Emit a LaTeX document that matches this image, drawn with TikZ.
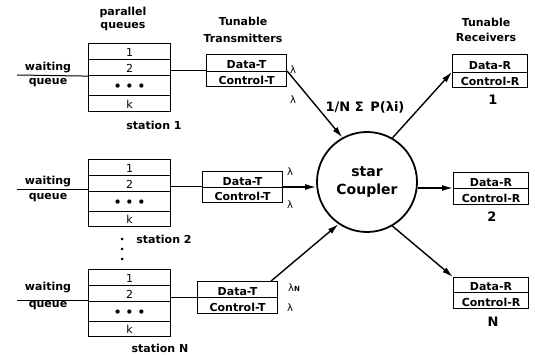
\documentclass[tikz,border=0pt]{standalone}
\usepackage{fontspec}
\setmainfont{DejaVu Sans}
\usetikzlibrary{arrows.meta,calc}
\begin{document}
\begin{tikzpicture}[x=1pt,y=-1pt,
 box/.style={draw, line width=1.1pt, inner sep=0pt, anchor=north west, text depth=0pt},
 qrow/.style={box, minimum width=82pt, font=\fontsize{11}{12}\selectfont, text height=9pt},
 trow/.style={box, minimum width=80pt, font=\bfseries\fontsize{11}{12}\selectfont, text height=11pt},
 rrow/.style={box, minimum width=75pt, font=\bfseries\fontsize{11}{12}\selectfont, text height=11pt},
 lab/.style={font=\bfseries\fontsize{11}{12}\selectfont, inner sep=0pt},
 big/.style={font=\bfseries\fontsize{13}{15}\selectfont, inner sep=0pt},
 lam/.style={font=\fontsize{10}{12}\selectfont, inner sep=0pt},
 dotm/.style={circle, fill, inner sep=0pt, minimum size=3pt},
 arr/.style={line width=1.4pt, -{Latex[length=11pt,width=6pt]}},
 wire/.style={line width=1pt},
]
\useasboundingbox (0,0) rectangle (535,355);

% headers
\node[lab] (pq1) at (123,12) {parallel};
\node[lab] (pq2) at (123,27) {queues};
\node[lab] (tt1) at (243,21) {Tunable};
\node[lab] (tt2) at (243,38) {Transmitters};
\node[lab] (tr1) at (486,22) {Tunable};
\node[lab] (tr2) at (486,37) {Receivers};

% station 1
\node[qrow, minimum height=16pt] (q1a) at (88,43) {1};
\node[qrow, minimum height=16pt] (q1b) at (88,59) {2};
\node[qrow, minimum height=20pt, font=\bfseries\fontsize{12}{12}\selectfont] (q1c) at (88,75) {• • •};
\node[qrow, minimum height=16pt] (q1d) at (88,95) {k};
\coordinate (w1) at (17,75);
\draw[wire] (w1) -- (q1b.south west);
\node[lab] (wt1) at (48,68) {waiting};
\node[lab] (wq1) at (48,83) {queue};
\node[lab] (s1) at (154,125) {station 1};

% station 2
\node[qrow, minimum height=16pt] (q2a) at (88,159) {1};
\node[qrow, minimum height=16pt] (q2b) at (88,175) {2};
\node[qrow, minimum height=20pt, font=\bfseries\fontsize{12}{12}\selectfont] (q2c) at (88,191) {• • •};
\node[qrow, minimum height=15pt] (q2d) at (88,211) {k};
\coordinate (w2) at (17,190);
\draw[wire] (w2) -- (w2 -| q2b.west);
\node[lab] (wt2) at (48,182) {waiting};
\node[lab] (wq2) at (48,198) {queue};
\node[lab] (s2) at (164,239) {station 2};
\node[dotm] (v1) at (122,239) {};
\node[dotm] (v2) at (122,249) {};
\node[dotm] (v3) at (122,259) {};

% station N
\node[qrow, minimum height=16pt] (q3a) at (88,269) {1};
\node[qrow, minimum height=16pt] (q3b) at (88,285) {2};
\node[qrow, minimum height=20pt, font=\bfseries\fontsize{12}{12}\selectfont] (q3c) at (88,301) {• • •};
\node[qrow, minimum height=15pt] (q3d) at (88,321) {k};
\coordinate (w3) at (17,300);
\draw[wire] (w3) -- (w3 -| q3b.west);
\node[lab] (wt3) at (48,288) {waiting};
\node[lab] (wq3) at (48,306) {queue};
\node[lab] (s3) at (160,348) {station N};

% transmitters
\node[trow, minimum height=17pt] (t1d) at (206,54) {Data-T};
\node[trow, minimum height=15pt] (t1c) at (206,71) {Control-T};
\node[trow, minimum height=16pt] (t2d) at (202,171) {Data-T};
\node[trow, minimum height=15pt] (t2c) at (202,187) {Control-T};
\node[trow, minimum height=16pt] (t3d) at (197,281) {Data-T};
\node[trow, minimum height=16pt] (t3c) at (197,297) {Control-T};
\draw[wire] (q1b.east |- t1c.north west) -- (t1c.north west);
\draw[wire] (q2b.east |- t2c.north west) -- (t2c.north west);
\draw[wire] (q3b.east |- t3c.north west) -- (t3c.north west);

\node[lam] (l1a) at (293,70) {λ};
\node[lam] (l1b) at (293,100) {λ};
\node[lam] (l2a) at (290,172) {λ};
\node[lam] (l2b) at (290,205) {λ};
\node[lam] (l3a) at (294,288) {λ{\fontsize{7}{8}\selectfont\bfseries N}};
\node[lam] (l3b) at (290,308) {λ};

% receivers
\node[rrow, minimum height=18pt] (r1d) at (452,54) {Data-R};
\node[rrow, minimum height=15pt] (r1c) at (452,72) {Control-R};
\node[rrow, minimum height=16pt] (r2d) at (453,172) {Data-R};
\node[rrow, minimum height=16pt] (r2c) at (453,188) {Control-R};
\node[rrow, minimum height=15pt] (r3d) at (453,277) {Data-R};
\node[rrow, minimum height=16pt] (r3c) at (453,292) {Control-R};
\node[big] (n1) at (493,100) {1};
\node[big] (n2) at (492,217) {2};
\node[big] (n3) at (493,322) {N};

% star coupler
\node[circle, draw, line width=1.8pt, minimum size=100pt, inner sep=0pt, align=center,
  font=\bfseries\fontsize{14}{18}\selectfont] (star) at (367,182) {star\\Coupler};
\node[big] (form) at (365,107) {1/N Σ\, P(λi)};

\draw[arr] (t1c.north east) -- (star.119);
\draw[arr] (t2c.north east) -- (t2c.north east -| star.west);
\draw[arr] ($(t3d.north east)+(-7,0)$) -- (star.236);
\draw[arr] (star.60) -- (r1c.north west);
\draw[arr] (r2c.north west -| star.east) -- (r2c.north west);
\draw[arr] (star.300) -- (r3d.north west);
\end{tikzpicture}
\end{document}
